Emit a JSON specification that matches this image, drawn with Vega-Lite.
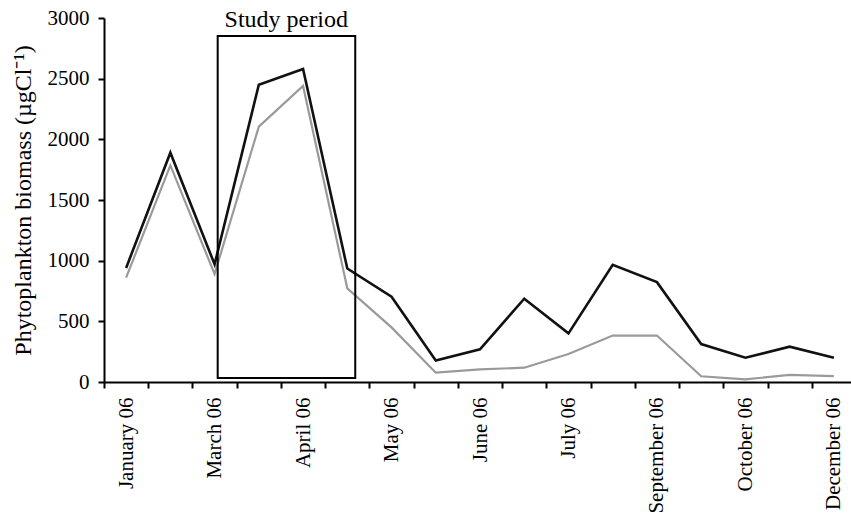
{
  "$schema": "https://vega.github.io/schema/vega-lite/v6.json",
  "autosize": "none",
  "padding": {"left": 104, "top": 18, "right": 0, "bottom": 131},
  "width": 752,
  "height": 364,
  "config": {
    "view": {"stroke": null},
    "font": "Liberation Serif",
    "axis": {
      "grid": false,
      "domainColor": "black",
      "domainWidth": 2,
      "tickColor": "black",
      "tickWidth": 2,
      "tickSize": 6,
      "labelFont": "Liberation Serif",
      "labelFontSize": 21,
      "labelColor": "black",
      "titleFont": "Liberation Serif",
      "titleFontSize": 24,
      "titleFontWeight": "normal",
      "titleColor": "black"
    }
  },
  "datasets": {
    "biomass": [
      {"n": 1, "total": 940, "fraction": 860},
      {"n": 2, "total": 1890, "fraction": 1785},
      {"n": 3, "total": 970, "fraction": 890},
      {"n": 4, "total": 2450, "fraction": 2105},
      {"n": 5, "total": 2580, "fraction": 2440},
      {"n": 6, "total": 935, "fraction": 772},
      {"n": 7, "total": 703, "fraction": 450},
      {"n": 8, "total": 178, "fraction": 77},
      {"n": 9, "total": 270, "fraction": 104},
      {"n": 10, "total": 686, "fraction": 118},
      {"n": 11, "total": 401, "fraction": 231},
      {"n": 12, "total": 966, "fraction": 383},
      {"n": 13, "total": 823, "fraction": 383},
      {"n": 14, "total": 313, "fraction": 47},
      {"n": 15, "total": 200, "fraction": 22},
      {"n": 16, "total": 291, "fraction": 58},
      {"n": 17, "total": 200, "fraction": 49}
    ],
    "period": [
      {"start": 3.07, "end": 6.18, "low": 33, "high": 2852, "mid": 4.62, "label": "Study period"}
    ]
  },
  "layer": [
    {
      "data": {"name": "biomass"},
      "mark": {"type": "line", "color": "#9a9a9a", "strokeWidth": 2.2},
      "encoding": {
        "x": {
          "field": "n",
          "type": "quantitative",
          "scale": {"domain": [0.5, 17.5], "nice": false, "zero": false},
          "axis": {
            "title": null,
            "values": [1, 2, 3, 4, 5, 6, 7, 8, 9, 10, 11, 12, 13, 14, 15, 16, 17],
            "tickOffset": -22.12,
            "labelOffset": 22.12,
            "labelAngle": -90,
            "labelAlign": "right",
            "labelBaseline": "middle",
            "labelPadding": 9,
            "labelFlush": false,
            "labelOverlap": false,
            "labelExpr": "['January 06','','March 06','','April 06','','May 06','','June 06','','July 06','','September 06','','October 06','','December 06'][datum.value-1]"
          }
        },
        "y": {
          "field": "fraction",
          "type": "quantitative",
          "scale": {"domain": [0, 3000], "nice": false},
          "axis": {
            "title": "Phytoplankton biomass (µgCl⁻¹)",
            "format": "d",
            "values": [0, 500, 1000, 1500, 2000, 2500, 3000],
            "labelPadding": 9,
            "labelFlush": false,
            "titlePadding": 12
          }
        }
      }
    },
    {
      "data": {"name": "biomass"},
      "mark": {"type": "line", "color": "#111111", "strokeWidth": 2.6},
      "encoding": {
        "x": {"field": "n", "type": "quantitative"},
        "y": {"field": "total", "type": "quantitative"}
      }
    },
    {
      "data": {"name": "period"},
      "mark": {"type": "rect", "fill": null, "stroke": "black", "strokeWidth": 2},
      "encoding": {
        "x": {"field": "start", "type": "quantitative"},
        "x2": {"field": "end"},
        "y": {"field": "low", "type": "quantitative"},
        "y2": {"field": "high"}
      }
    },
    {
      "data": {"name": "period"},
      "mark": {"type": "text", "fontSize": 24, "font": "Liberation Serif", "baseline": "alphabetic", "align": "center", "dy": -9, "color": "black"},
      "encoding": {
        "x": {"field": "mid", "type": "quantitative"},
        "y": {"field": "high", "type": "quantitative"},
        "text": {"field": "label"}
      }
    }
  ]
}
